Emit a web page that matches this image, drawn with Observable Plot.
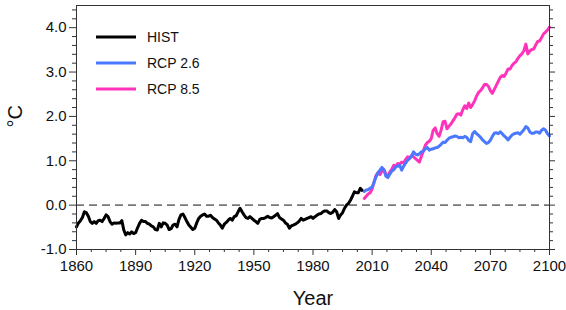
<!DOCTYPE html>
<html>
<head>
<meta charset="utf-8">
<script src="https://cdn.jsdelivr.net/npm/d3@7"></script>
<script src="https://cdn.jsdelivr.net/npm/@observablehq/plot@0.6"></script>
<style>
  html, body { margin: 0; padding: 0; background: #fff; }
  #chart { width: 566px; height: 310px; position: relative; }
</style>
</head>
<body>
<div id="chart"></div>
<script>
// ---- data ----
const histStart = 1860;
const histValues = [
  -0.49,-0.40,-0.35,-0.28,-0.15,-0.17,-0.25,-0.37,-0.41,-0.37,
  -0.41,-0.35,-0.34,-0.37,-0.30,-0.22,-0.26,-0.37,-0.43,-0.40,
  -0.41,-0.40,-0.40,-0.35,-0.56,-0.67,-0.62,-0.65,-0.60,-0.64,
  -0.62,-0.51,-0.41,-0.34,-0.37,-0.37,-0.41,-0.43,-0.47,-0.49,
  -0.55,-0.56,-0.41,-0.49,-0.40,-0.41,-0.45,-0.55,-0.53,-0.45,
  -0.43,-0.49,-0.32,-0.22,-0.20,-0.28,-0.37,-0.45,-0.50,-0.55,
  -0.52,-0.40,-0.30,-0.25,-0.22,-0.20,-0.25,-0.25,-0.23,-0.28,
  -0.31,-0.34,-0.40,-0.45,-0.52,-0.43,-0.39,-0.34,-0.30,-0.34,
  -0.26,-0.24,-0.15,-0.07,-0.15,-0.22,-0.28,-0.30,-0.26,-0.30,
  -0.34,-0.37,-0.41,-0.32,-0.30,-0.30,-0.28,-0.25,-0.28,-0.29,
  -0.26,-0.23,-0.19,-0.28,-0.31,-0.34,-0.40,-0.43,-0.52,-0.47,
  -0.45,-0.43,-0.40,-0.36,-0.30,-0.34,-0.32,-0.30,-0.28,-0.26,
  -0.30,-0.26,-0.23,-0.20,-0.19,-0.15,-0.13,-0.13,-0.17,-0.19,
  -0.16,-0.10,-0.15,-0.30,-0.22,-0.17,-0.07,0.00,0.04,0.11,
  0.20,0.30,0.28,0.28,0.38,0.33
];
const rcpStart = 2006;
const rcp26Values = [
  0.31,0.34,0.35,0.38,
  0.41,0.52,0.64,0.73,0.79,0.85,0.79,0.65,0.62,0.70,
  0.77,0.80,0.86,0.88,0.90,0.79,0.88,0.95,1.01,1.05,
  1.10,1.20,1.15,1.13,1.16,1.20,1.22,1.27,1.30,1.24,
  1.26,1.27,1.29,1.30,1.33,1.37,1.42,1.41,1.46,1.51,
  1.53,1.54,1.56,1.55,1.52,1.53,1.52,1.55,1.53,1.46,
  1.43,1.61,1.66,1.61,1.57,1.53,1.47,1.43,1.39,1.41,
  1.46,1.55,1.62,1.63,1.61,1.65,1.61,1.56,1.52,1.47,
  1.53,1.58,1.61,1.62,1.63,1.60,1.65,1.70,1.77,1.74,
  1.65,1.62,1.62,1.65,1.65,1.62,1.69,1.72,1.69,1.61,
  1.56
];
const rcp85Values = [
  0.15,0.20,0.25,0.28,
  0.37,0.52,0.67,0.73,0.69,0.77,0.80,0.70,0.65,0.75,
  0.81,0.90,0.88,0.94,0.92,0.97,0.95,1.03,1.09,1.06,
  1.12,1.09,1.05,1.01,0.97,1.10,1.22,1.35,1.41,1.44,
  1.50,1.69,1.74,1.61,1.55,1.69,1.88,1.89,1.72,1.78,
  1.83,1.90,1.97,2.05,2.06,2.03,2.15,2.24,2.18,2.30,
  2.20,2.27,2.35,2.46,2.54,2.58,2.64,2.72,2.72,2.68,
  2.58,2.52,2.61,2.70,2.79,2.88,2.92,2.90,2.98,3.07,
  3.07,3.15,3.20,3.23,3.31,3.37,3.41,3.48,3.63,3.41,
  3.47,3.51,3.52,3.61,3.69,3.70,3.78,3.86,3.90,3.95,
  4.01
];
const seriesNames = ["HIST", "RCP 2.6", "RCP 8.5"];
const seriesColors = ["#000000", "#4a78ff", "#ff33bb"];
const xTicks = [1860, 1890, 1920, 1950, 1980, 2010, 2040, 2070, 2100];
const yTicks = [-1, 0, 1, 2, 3, 4];
const yTickLabels = ["-1.0", "0.0", "1.0", "2.0", "3.0", "4.0"];
const xLabel = "Year";
const yLabel = "°C";

// ---- build tables ----
const hist = histValues.map((v, i) => ({year: histStart + i, value: v}));
const rcp26 = rcp26Values.map((v, i) => ({year: rcpStart + i, value: v}));
const rcp85 = rcp85Values.map((v, i) => ({year: rcpStart + i, value: v}));
const xMinor = d3.range(1860, 2100.01, 7.5).filter(v => !xTicks.includes(v));
const yMinor = d3.range(-1, 4.41, 0.2).map(v => +v.toFixed(1)).filter(v => !yTicks.includes(v));
const yLabelOf = new Map(yTicks.map((t, i) => [t, yTickLabels[i]]));

const font = "'Liberation Sans', Arial, Helvetica, sans-serif";
const tickColor = "#333";

const plot = Plot.plot({
  width: 566,
  height: 310,
  marginLeft: 76,
  marginRight: 17,
  marginTop: 5,
  marginBottom: 61,
  x: {domain: [1860, 2100]},
  y: {domain: [-1, 4.5]},
  style: {fontFamily: font, fontSize: "15px", color: "#111", background: "#fff"},
  marks: [
    Plot.ruleY([0], {stroke: "#777", strokeWidth: 1.6, strokeDasharray: "8,5"}),
    Plot.line(hist, {x: "year", y: "value", stroke: seriesColors[0], strokeWidth: 3, strokeLinejoin: "round"}),
    Plot.line(rcp85, {x: "year", y: "value", stroke: seriesColors[2], strokeWidth: 3, strokeLinejoin: "round"}),
    Plot.line(rcp26, {x: "year", y: "value", stroke: seriesColors[1], strokeWidth: 3, strokeLinejoin: "round"}),
    Plot.frame({stroke: "#333", strokeWidth: 1}),
    Plot.axisX({ticks: xTicks, tickSize: 6, tickPadding: 5, tickFormat: d => String(d), label: null, stroke: tickColor, fontSize: 15}),
    Plot.axisX({ticks: xMinor, tickSize: 3, tickFormat: () => "", label: null, stroke: tickColor}),
    Plot.axisY({ticks: yTicks, tickSize: 7, tickPadding: 3, tickFormat: d => yLabelOf.get(d), label: null, stroke: tickColor, fontSize: 15}),
    Plot.axisY({ticks: yMinor, tickSize: 4, tickFormat: () => "", label: null, stroke: tickColor}),
    Plot.axisY({anchor: "right", ticks: yTicks, tickSize: 5, tickFormat: () => "", label: null, stroke: tickColor}),
    Plot.axisY({anchor: "right", ticks: yMinor, tickSize: 3, tickFormat: () => "", label: null, stroke: tickColor}),
    Plot.text([xLabel], {frameAnchor: "bottom", dy: 49, fontSize: 20, lineAnchor: "middle", fill: "#111"}),
    Plot.text([yLabel], {frameAnchor: "left", dx: -61, rotate: -90, fontSize: 20, lineAnchor: "middle", fill: "#111"})
  ]
});

document.getElementById("chart").appendChild(plot);

// ---- legend (inside plot area, top-left) ----
const svg = d3.select(plot);
const lg = svg.append("g")
  .attr("font-family", font)
  .attr("font-size", 14)
  .attr("text-anchor", "start");
seriesNames.forEach((name, i) => {
  const y = 37 + i * 26;
  lg.append("line").attr("x1", 96).attr("x2", 136).attr("y1", y).attr("y2", y)
    .attr("stroke", seriesColors[i]).attr("stroke-width", 3);
  lg.append("text").attr("x", 147).attr("y", y).attr("dy", "0.35em")
    .attr("text-anchor", "start")
    .attr("fill", "#111").text(name);
});
</script>
</body>
</html>
